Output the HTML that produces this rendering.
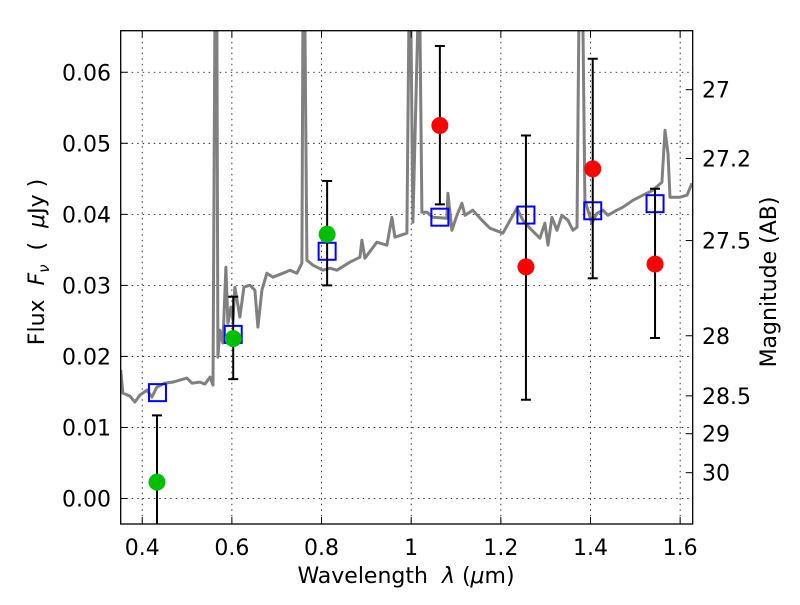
<!DOCTYPE html>
<html><head><meta charset="utf-8"><style>
html,body{margin:0;padding:0;background:#fff;}
svg text{font-family:"DejaVu Sans","Liberation Sans",sans-serif;fill:#000;white-space:pre;}
</style></head><body>
<svg id="chart" width="800" height="600" xmlns="http://www.w3.org/2000/svg">
<defs><clipPath id="clip"><rect x="120.7" y="30.7" width="572" height="493.3"/></clipPath></defs>
<rect x="0" y="0" width="800" height="600" fill="#fff"/>
<g id="grid"></g>
<g id="plot" clip-path="url(#clip)"></g>
<rect x="120.7" y="30.7" width="572" height="493.3" fill="none" stroke="#000" stroke-width="1.3"/>
<g id="axes"></g>
<text x="406" y="583" font-size="22" text-anchor="middle">Wavelength  <tspan font-style="italic">λ</tspan> (<tspan font-style="italic">μ</tspan>m)</text>
<text transform="translate(44,262) rotate(-90)" font-size="22" text-anchor="middle">Flux  <tspan font-style="italic">F</tspan><tspan font-style="italic" font-size="15" dy="5">ν</tspan><tspan dy="-5">  (  </tspan><tspan font-style="italic">μ</tspan>Jy )</text>
<text transform="translate(776,282) rotate(-90)" font-size="22" text-anchor="middle">Magnitude (AB)</text>
</svg>
<script>
const specWave=[0.352,0.357,0.3726,0.3837,0.3949,0.4105,0.4216,0.4328,0.4506,0.4685,0.4997,0.5109,0.5287,0.5399,0.5511,0.5578,0.5622,0.5667,0.5689,0.5734,0.58,0.5867,0.5912,0.5979,0.6024,0.6068,0.618,0.6269,0.6403,0.6514,0.6581,0.667,0.6782,0.6916,0.7139,0.7295,0.7451,0.7563,0.7585,0.763,0.7674,0.7808,0.8031,0.8187,0.8344,0.8634,0.8857,0.8901,0.8968,0.9236,0.9459,0.957,0.9637,0.9905,0.9949,0.9994,1.0039,1.015,1.0195,1.0239,1.0351,1.0485,1.0797,1.0819,1.0909,1.102,1.1132,1.1199,1.1377,1.1578,1.1757,1.2047,1.2359,1.2493,1.2649,1.2872,1.2984,1.3051,1.314,1.3252,1.3363,1.3497,1.3608,1.3698,1.3742,1.3831,1.3876,1.4032,1.4144,1.4278,1.4389,1.459,1.4724,1.4947,1.517,1.5393,1.5594,1.5661,1.5728,1.5773,1.5996,1.6152,1.6264];
const specFlux=[0.01807,0.01484,0.01442,0.01357,0.01456,0.01526,0.01428,0.01568,0.01624,0.01639,0.01695,0.01624,0.01639,0.0161,0.01709,0.01596,0.0673,0.0673,0.0199,0.0237,0.02187,0.03256,0.02468,0.02693,0.0251,0.02975,0.02553,0.02975,0.03003,0.02932,0.02412,0.02932,0.03172,0.03115,0.03172,0.03214,0.03172,0.03312,0.0673,0.0673,0.03354,0.03284,0.03214,0.03242,0.03214,0.03326,0.03397,0.03636,0.03383,0.03608,0.03565,0.03959,0.03678,0.03734,0.0673,0.0673,0.03889,0.0673,0.0673,0.0403,0.0403,0.03959,0.03945,0.04297,0.03776,0.03987,0.04156,0.03987,0.04058,0.03917,0.03805,0.03734,0.04086,0.03917,0.03805,0.03664,0.03875,0.03565,0.03959,0.03776,0.03987,0.03917,0.03776,0.03819,0.0673,0.0673,0.04198,0.03875,0.04015,0.04058,0.03987,0.04058,0.041,0.04198,0.04269,0.04339,0.04451,0.05183,0.04859,0.04241,0.04241,0.04269,0.04437];
const modelWave=[0.434,0.603,0.8125,1.064,1.256,1.405,1.544];
const modelFlux=[0.0149,0.0231,0.0348,0.0396,0.0399,0.0405,0.0415];
const obsWave=[0.433,0.603,0.8125,1.064,1.256,1.405,1.544];
const obsFlux=[0.0023,0.0225,0.0372,0.0525,0.0326,0.0464,0.0330];
const obsErrHigh=[0.0117,0.0284,0.0447,0.0637,0.0511,0.0619,0.0436];
const obsErrLow=[-0.01,0.0168,0.030,0.0414,0.0139,0.031,0.0226];
const obsColor=['#00bf00','#00bf00','#00bf00','#ff0000','#ff0000','#ff0000','#ff0000'];
const xTicks=[0.4,0.6,0.8,1.0,1.2,1.4,1.6];
const xTickLabels=['0.4','0.6','0.8','1','1.2','1.4','1.6'];
const yTicks=[0,0.01,0.02,0.03,0.04,0.05,0.06];
const yTickLabels=['0.00','0.01','0.02','0.03','0.04','0.05','0.06'];
const magTicks=[27,27.2,27.5,28,28.5,29,30];
const magTickLabels=['27','27.2','27.5','28','28.5','29','30'];

const X0=120.7,X1=692.7,Y0=30.7,Y1=524;
const xMin=0.352,xMax=1.628,yMin=-0.00359,yMax=0.06585;
const sx=v=>X0+(v-xMin)/(xMax-xMin)*(X1-X0);
const sy=v=>Y1-(v-yMin)/(yMax-yMin)*(Y1-Y0);
const magToFlux=m=>Math.pow(10,(23.9-m)/2.5);
const NS='http://www.w3.org/2000/svg';
function mk(tag,parent,attrs){const e=document.createElementNS(NS,tag);for(const k in attrs)e.setAttribute(k,attrs[k]);parent.appendChild(e);return e;}
const grid=document.getElementById('grid'),plot=document.getElementById('plot'),axes=document.getElementById('axes');

xTicks.forEach((t,i)=>{
  const x=sx(t);
  const g=mk('line',grid,{x1:x,x2:x,y1:Y0,y2:Y1,stroke:'#000','stroke-width':0.8,'stroke-dasharray':'1.5,4'});
  
  
  const t1=mk('line',axes,{x1:x,x2:x,y1:Y1,y2:Y1-7,stroke:'#000','stroke-width':1});
  
  
  const t2=mk('line',axes,{x1:x,x2:x,y1:Y0,y2:Y0+7,stroke:'#000','stroke-width':1});
  
  
  const l=mk('text',axes,{x:x,y:555,'font-size':22,'text-anchor':'middle'});
  l.textContent=xTickLabels[i];
  
  
});
yTicks.forEach((t,i)=>{
  const y=sy(t);
  const g=mk('line',grid,{x1:X0,x2:X1,y1:y,y2:y,stroke:'#000','stroke-width':0.8,'stroke-dasharray':'1.5,4'});
  
  
  const t1=mk('line',axes,{x1:X0,x2:X0+7,y1:y,y2:y,stroke:'#000','stroke-width':1});
  
  
  const l=mk('text',axes,{x:111,y:y+8,'font-size':22,'text-anchor':'end'});
  l.textContent=yTickLabels[i];
  
  
});
magTicks.forEach((m,i)=>{
  const y=sy(magToFlux(m));
  const t1=mk('line',axes,{x1:X1,x2:X1-7,y1:y,y2:y,stroke:'#000','stroke-width':1});
  
  
  const l=mk('text',axes,{x:702,y:y+8,'font-size':22,'text-anchor':'start'});
  l.textContent=magTickLabels[i];
  
  
});

const pts=specWave.map((w,i)=>sx(w).toFixed(1)+','+sy(specFlux[i]).toFixed(1)).join(' ');
const sp=mk('polyline',plot,{points:pts,fill:'none',stroke:'#808080','stroke-width':3,'stroke-linejoin':'round'});



modelWave.forEach((w,i)=>{
  const x=sx(w),y=sy(modelFlux[i]);
  const r=mk('rect',plot,{x:x-8.5,y:y-8.5,width:17,height:17,fill:'none',stroke:'#0000ff','stroke-width':2});
  
  
});
obsWave.forEach((w,i)=>{
  const x=sx(w);
  const e=mk('line',plot,{x1:x,x2:x,y1:sy(obsErrHigh[i]),y2:sy(obsErrLow[i]),stroke:'#000','stroke-width':2});
  
  
  [obsErrHigh[i],obsErrLow[i]].forEach(v=>{
    const c=mk('line',plot,{x1:x-5,x2:x+5,y1:sy(v),y2:sy(v),stroke:'#000','stroke-width':2});
    
    
  });
  const p=mk('circle',plot,{cx:x,cy:sy(obsFlux[i]),r:8.5,fill:obsColor[i]});
  
  
});
</script>
</body></html>
